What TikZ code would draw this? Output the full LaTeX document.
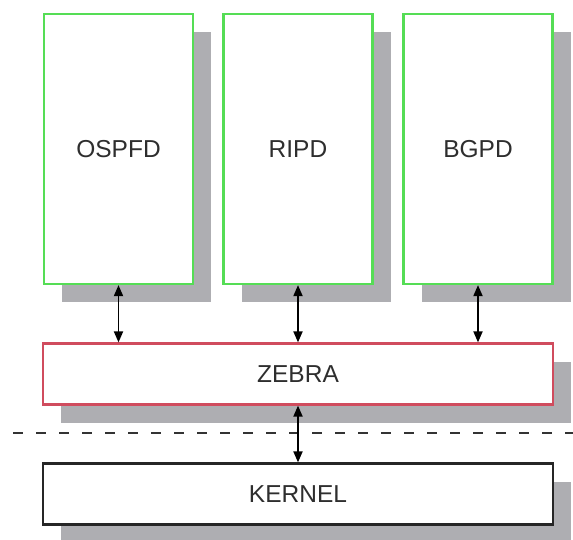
\documentclass[tikz,border=0pt]{standalone}
\usepackage{fontspec}
\setmainfont{Liberation Sans}
\usetikzlibrary{shadows, arrows.meta, positioning}
\definecolor{demone}{HTML}{55DD55}
\definecolor{zebrared}{HTML}{D04C5E}
\definecolor{ombra}{HTML}{AEAEB2}
\definecolor{testo}{HTML}{2E2E2E}
\tikzset{
  % scatola con ombra piena
  box/.style={draw, line width=2.2pt, fill=white, align=center, text=testo,
    font=\fontsize{24.5}{28}\selectfont, inner sep=0pt,
    drop shadow={shadow xshift=18pt, shadow yshift=-18pt, fill=ombra, opacity=1}},
  % demoni di routing
  daemon/.style={box, draw=demone, minimum width=149pt, minimum height=270pt},
  % strati orizzontali
  strato/.style={box, minimum width=510pt, minimum height=61pt},
  % collegamento bidirezionale
  link/.style={{Triangle[length=11pt, width=9pt]}-{Triangle[length=11pt, width=9pt]},
    line width=1.8pt, black},
  % separazione utente / kernel
  separa/.style={line width=2pt, black!80, dash pattern=on 10pt off 13pt},
}
\begin{document}
\begin{tikzpicture}[x=1pt, y=-1pt]
  \useasboundingbox (0,0) rectangle (573,539);
  % demoni
  \node[daemon] (ospfd) at (118.5,149) {OSPFD};
  \node[daemon] (ripd) at (298,149) {RIPD};
  \node[daemon] (bgpd) at (478,149) {BGPD};
  % zebra e kernel
  \node[strato, draw=zebrared] (zebra) at (298,374) {ZEBRA};
  \node[strato, draw=black!85] (kernel) at (298,494) {KERNEL};
  % confine utente / kernel
  \coordinate (sepL) at (13,433);
  \coordinate (sepR) at (573,433);
  \draw[separa] (sepL) -- (sepR);
  % frecce
  \foreach \d in {ospfd, ripd, bgpd}
    \draw[link] (\d.south) -- (\d.south |- zebra.north);
  \draw[link] (zebra.south) -- (kernel.north);
\end{tikzpicture}
\end{document}
